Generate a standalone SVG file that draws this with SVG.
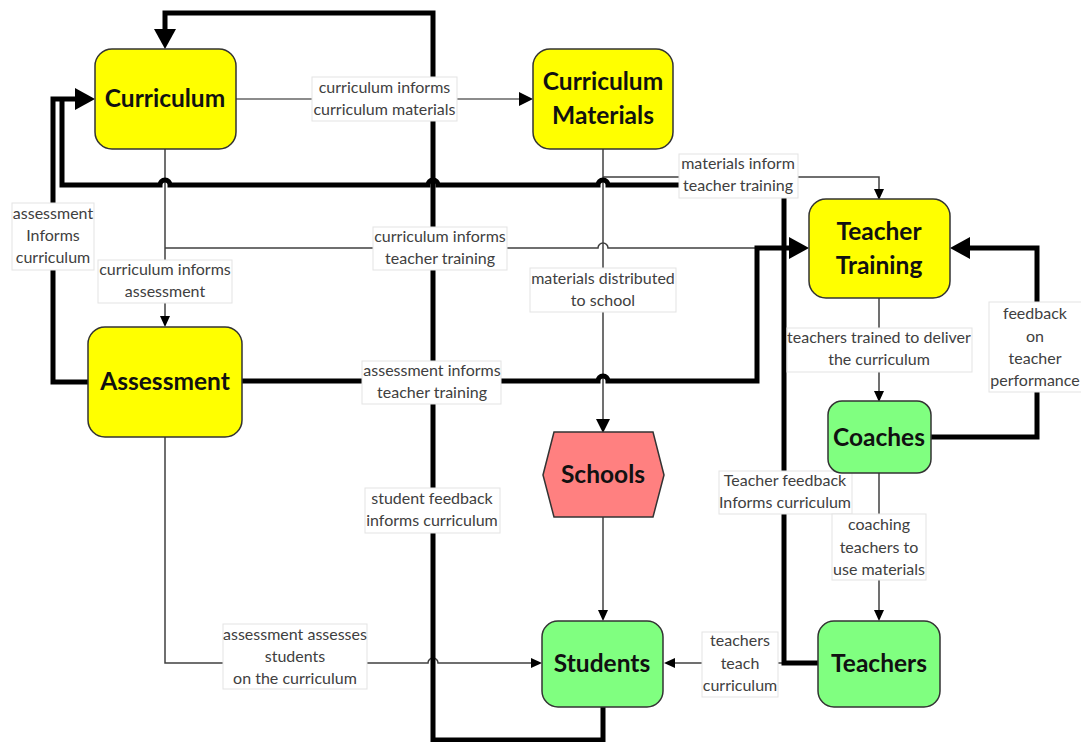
<svg xmlns="http://www.w3.org/2000/svg" width="1081" height="742" viewBox="0 0 1081 742">
<style>
.bg{fill:#fff}
.node{stroke:#333;stroke-width:1.5}
.y{fill:#ffff00}
.g{fill:#80ff80}
.r{fill:#ff8080}
.nt{font-family:Lato,"Liberation Sans",sans-serif;font-weight:bold;font-size:24.5px;fill:#111;text-anchor:middle}
.thick{fill:none;stroke:#000;stroke-width:5;stroke-linejoin:miter}
.thin{fill:none;stroke:#404040;stroke-width:1.5}
.grey{fill:none;stroke:#8c8c8c;stroke-width:2}
.lb{fill:#fff;stroke:#e3e3e3;stroke-width:1}
.lt{font-family:Lato,"Liberation Sans",sans-serif;font-size:16px;fill:#404040;text-anchor:middle}
</style>
<defs>
<marker id="big" markerUnits="userSpaceOnUse" markerWidth="20" markerHeight="22" refX="0" refY="11" orient="auto"><path d="M0,0 L20,11 L0,22 z" fill="#000"/></marker>
<marker id="mid" markerUnits="userSpaceOnUse" markerWidth="14" markerHeight="14" refX="0" refY="7" orient="auto"><path d="M0,0 L14,7 L0,14 z" fill="#000"/></marker>
<marker id="sm" markerUnits="userSpaceOnUse" markerWidth="11" markerHeight="10" refX="0" refY="5" orient="auto"><path d="M0,0 L11,5 L0,10 z" fill="#000"/></marker>
</defs>
<rect class="bg" x="0" y="0" width="1081" height="742"/>
<g id="connectors">
<path class="grey" d="M236,99 H519" marker-end="url(#mid)"/>
<path class="thin" d="M165,149 V316" marker-end="url(#sm)"/>
<path class="thin" d="M165,248 H598 A5,5 0 0 1 608,248 H789"/>
<path class="thin" d="M603,149 V419" marker-end="url(#mid)"/>
<path class="thin" d="M603,177 H879 V189" marker-end="url(#sm)"/>
<path class="thin" d="M879,298 V391" marker-end="url(#sm)"/>
<path class="thin" d="M879,473 V610" marker-end="url(#sm)"/>
<path class="thin" d="M603,517 V610" marker-end="url(#sm)"/>
<path class="thin" d="M818,663 H675" marker-end="url(#sm)"/>
<path class="thin" d="M165,437 V663 H428 A5,5 0 0 1 438,663 H531" marker-end="url(#sm)"/>
<path class="thick" d="M603,707 V740 H433 V13 H165 V29" marker-end="url(#big)"/>
<path class="thick" d="M88,382 H53 V99 H75" marker-end="url(#big)"/>
<path class="thick" d="M818,663 H784 V185 H608 A5,5 0 0 0 598,185 H438 A5,5 0 0 0 428,185 H170 A5,5 0 0 0 160,185 H62 V99"/>
<path class="thick" d="M242,381 H598 A5,5 0 0 1 608,381 H757 V248 H789" marker-end="url(#big)"/>
<path class="thick" d="M931,437 H1037 V248 H970" marker-end="url(#big)"/>
<g id="labels">
<rect class="lb" x="312" y="77" width="145" height="44"/>
<text class="lt" x="384.5" y="93">curriculum informs</text>
<text class="lt" x="384.5" y="115">curriculum materials</text>
<rect class="lb" x="12" y="203" width="82" height="67"/>
<text class="lt" x="53" y="219">assessment</text>
<text class="lt" x="53" y="241">Informs</text>
<text class="lt" x="53" y="263">curriculum</text>
<rect class="lb" x="98" y="260" width="134" height="43"/>
<text class="lt" x="165" y="275">curriculum informs</text>
<text class="lt" x="165" y="297">assessment</text>
<rect class="lb" x="373" y="227" width="134" height="43"/>
<text class="lt" x="440" y="242">curriculum informs</text>
<text class="lt" x="440" y="264">teacher training</text>
<rect class="lb" x="679" y="154" width="119" height="44"/>
<text class="lt" x="738" y="169">materials inform</text>
<text class="lt" x="738" y="191">teacher training</text>
<rect class="lb" x="530" y="268" width="146" height="44"/>
<text class="lt" x="603" y="284">materials distributed</text>
<text class="lt" x="603" y="306">to school</text>
<rect class="lb" x="362" y="361" width="139" height="43"/>
<text class="lt" x="432" y="376">assessment informs</text>
<text class="lt" x="432" y="398">teacher training</text>
<rect class="lb" x="365" y="488" width="135" height="45"/>
<text class="lt" x="432" y="504">student feedback</text>
<text class="lt" x="432" y="526">informs curriculum</text>
<rect class="lb" x="223" y="624" width="144" height="65"/>
<text class="lt" x="295" y="640">assessment assesses</text>
<text class="lt" x="295" y="662">students</text>
<text class="lt" x="295" y="684">on the curriculum</text>
<rect class="lb" x="787" y="328" width="185" height="44"/>
<text class="lt" x="879" y="343">teachers trained to deliver</text>
<text class="lt" x="879" y="365">the curriculum</text>
<rect class="lb" x="989" y="302" width="93" height="90"/>
<text class="lt" x="1035" y="319">feedback</text>
<text class="lt" x="1035" y="342">on</text>
<text class="lt" x="1035" y="364">teacher</text>
<text class="lt" x="1035" y="386">performance</text>
<rect class="lb" x="719" y="471" width="133" height="43"/>
<text class="lt" x="785" y="486">Teacher feedback</text>
<text class="lt" x="785" y="508">Informs curriculum</text>
<rect class="lb" x="832" y="514" width="94" height="66"/>
<text class="lt" x="879" y="530">coaching</text>
<text class="lt" x="879" y="553">teachers to</text>
<text class="lt" x="879" y="575">use materials</text>
<rect class="lb" x="702" y="632" width="76" height="65"/>
<text class="lt" x="740" y="646">teachers</text>
<text class="lt" x="740" y="669">teach</text>
<text class="lt" x="740" y="691">curriculum</text>
</g>
</g>
<g id="curriculum">
<rect class="node y" x="95" y="49" width="141" height="100" rx="17"/>
<text class="nt" x="165" y="107">Curriculum</text>
</g>
<g id="curriculum-materials">
<rect class="node y" x="533" y="49" width="140" height="100" rx="17"/>
<text class="nt" x="603" y="90">Curriculum</text>
<text class="nt" x="603" y="124">Materials</text>
</g>
<g id="teacher-training">
<rect class="node y" x="809" y="199" width="141" height="99" rx="17"/>
<text class="nt" x="879" y="240">Teacher</text>
<text class="nt" x="879" y="274">Training</text>
</g>
<g id="assessment">
<rect class="node y" x="88" y="327" width="154" height="110" rx="17"/>
<text class="nt" x="165" y="390">Assessment</text>
</g>
<g id="schools">
<polygon class="node r" points="543,475 554,432 653,432 664,475 653,517 554,517"/>
<text class="nt" x="603" y="483">Schools</text>
</g>
<g id="coaches">
<rect class="node g" x="828" y="401" width="103" height="72" rx="14"/>
<text class="nt" x="879" y="446">Coaches</text>
</g>
<g id="students">
<rect class="node g" x="542" y="621" width="121" height="86" rx="16"/>
<text class="nt" x="602" y="672">Students</text>
</g>
<g id="teachers">
<rect class="node g" x="818" y="621" width="122" height="86" rx="16"/>
<text class="nt" x="879" y="672">Teachers</text>
</g>
</svg>
